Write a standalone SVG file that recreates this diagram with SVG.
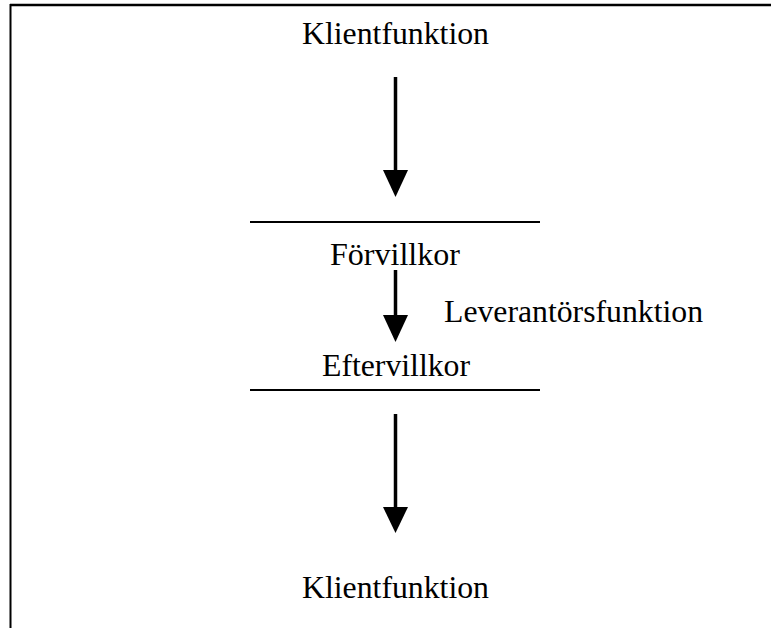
<svg xmlns="http://www.w3.org/2000/svg" width="771" height="628" viewBox="0 0 771 628">
<style>
.t{font-family:"Liberation Serif","Times New Roman",serif;font-size:32.5px;fill:#000;text-anchor:middle}
.sh{stroke:#000;stroke-width:3.5;fill:none}
.hd{fill:#000;stroke:none}
.rule{stroke:#000;stroke-width:2}
</style>
<rect width="771" height="628" fill="#fff"/>
<g id="frame">
<line x1="10" y1="5" x2="771" y2="5" stroke="#000" stroke-width="2.5"/>
<line x1="10.5" y1="4" x2="10.5" y2="628" stroke="#000" stroke-width="2"/>
</g>
<g id="client-top"><text class="t" x="395.5" y="44" textLength="187" lengthAdjust="spacingAndGlyphs">Klientfunktion</text></g>
<g id="precondition">
<line class="rule" x1="250" y1="222" x2="540" y2="222"/>
<text class="t" x="395" y="265" textLength="130" lengthAdjust="spacingAndGlyphs">Förvillkor</text>
</g>
<g id="supplier"><text class="t" x="573.5" y="322" textLength="259" lengthAdjust="spacingAndGlyphs">Leverantörsfunktion</text></g>
<g id="postcondition">
<text class="t" x="396" y="376" textLength="148" lengthAdjust="spacingAndGlyphs">Eftervillkor</text>
<line class="rule" x1="250" y1="390" x2="540" y2="390"/>
</g>
<g id="client-bottom"><text class="t" x="395.5" y="598" textLength="187" lengthAdjust="spacingAndGlyphs">Klientfunktion</text></g>
<g id="connectors">
<line class="sh" x1="395.5" y1="77" x2="395.5" y2="172"/>
<polygon class="hd" points="383,170 408,170 395.5,197"/>
<line class="sh" x1="395.5" y1="270" x2="395.5" y2="317"/>
<polygon class="hd" points="383,315 408,315 395.5,342"/>
<line class="sh" x1="395.5" y1="414" x2="395.5" y2="509"/>
<polygon class="hd" points="383,507 408,507 395.5,533"/>
</g>
</svg>
